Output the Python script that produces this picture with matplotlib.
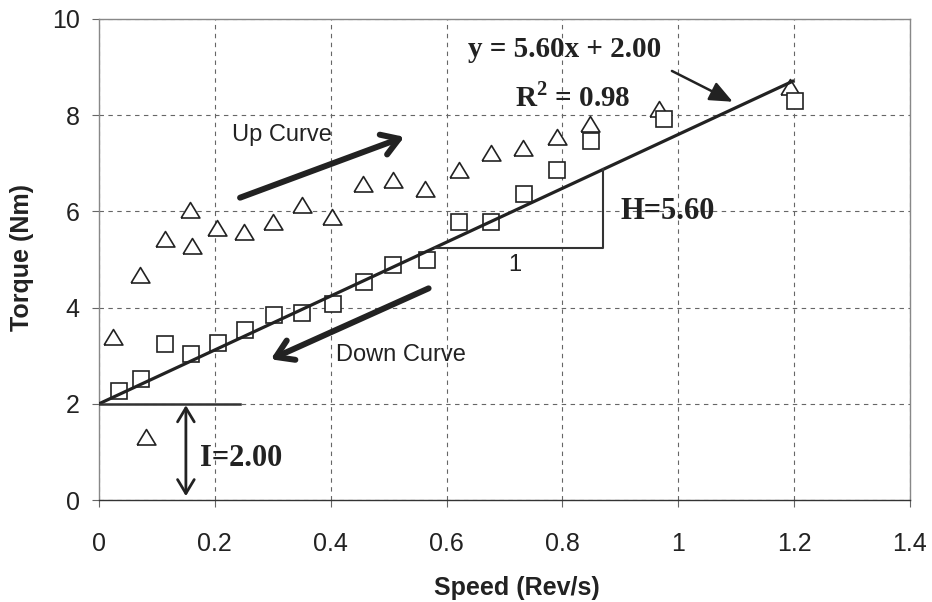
import matplotlib
matplotlib.use("Agg")
import matplotlib.pyplot as plt
import numpy as np

# Measured torque vs speed, increasing speed (up curve)
up_speed = [0.024, 0.071, 0.081, 0.114, 0.157, 0.160, 0.204, 0.251, 0.300, 0.350,
            0.402, 0.456, 0.507, 0.563, 0.622, 0.677, 0.732, 0.790, 0.847, 0.967, 1.192]
up_torque = [3.39, 4.68, 1.32, 5.42, 6.03, 5.29, 5.65, 5.57, 5.77, 6.13,
             5.89, 6.58, 6.65, 6.46, 6.86, 7.22, 7.31, 7.55, 7.81, 8.12, 8.58]

# Measured torque vs speed, decreasing speed (down curve)
down_speed = [0.035, 0.073, 0.114, 0.158, 0.205, 0.252, 0.302, 0.351, 0.404, 0.458,
              0.508, 0.566, 0.622, 0.677, 0.733, 0.790, 0.849, 0.975, 1.202]
down_torque = [2.27, 2.52, 3.24, 3.03, 3.27, 3.53, 3.85, 3.88, 4.07, 4.53,
               4.89, 4.99, 5.79, 5.79, 6.36, 6.86, 7.46, 7.92, 8.30]

# Linear fit parameters
slope = 5.60
intercept = 2.00
r_squared = 0.98
fit_x = [0.0, 1.2]

x_ticks = [0, 0.2, 0.4, 0.6, 0.8, 1.0, 1.2, 1.4]
x_tick_labels = ["0", "0.2", "0.4", "0.6", "0.8", "1", "1.2", "1.4"]
y_ticks = [0, 2, 4, 6, 8, 10]

plt.rcParams["mathtext.fontset"] = "custom"
plt.rcParams["mathtext.rm"] = "Liberation Serif:bold"
plt.rcParams["mathtext.bf"] = "Liberation Serif:bold"

sans = "Liberation Sans"
serif = "Liberation Serif"
ink = "#222222"

fig = plt.figure(figsize=(9.32, 6.02), dpi=100)
ax = fig.add_axes([99 / 932, 102 / 602, 811 / 932, 481 / 602])
ax.set_xlim(0, 1.4)
ax.set_ylim(0, 10)

# grid
ax.set_xticks(x_ticks)
ax.set_xticklabels(x_tick_labels, fontfamily=sans, fontsize=18, color=ink)
ax.set_yticks(y_ticks)
ax.set_yticklabels([str(v) for v in y_ticks], fontfamily=sans, fontsize=18, color=ink)
ax.grid(True, linestyle=(0, (4, 4)), linewidth=0.8, color="#666666")
ax.set_axisbelow(True)
ax.tick_params(axis="y", direction="out", length=5, width=0.8, color="#666666", pad=9)
ax.tick_params(axis="x", direction="out", length=5, width=0.8, color="#666666", pad=18)
for side in ("left", "top", "right"):
    ax.spines[side].set_color("#888888")
    ax.spines[side].set_linewidth(1.0)
ax.spines["bottom"].set_color("#333333")
ax.spines["bottom"].set_linewidth(1.0)

ax.set_xlabel("Speed (Rev/s)", fontfamily=sans, fontsize=18, fontweight="bold",
              color=ink)
ax.xaxis.set_label_coords(0.515, -0.158)
ax.set_ylabel("Torque (Nm)", fontfamily=sans, fontsize=18, fontweight="bold",
              color=ink)
ax.yaxis.set_label_coords(-0.080, 0.505)

# data markers
tri = [(-1.0, -0.8), (1.0, -0.8), (0.0, 0.85), (-1.0, -0.8)]
ax.plot(up_speed, up_torque, linestyle="none", marker=tri, markersize=13.5,
        markerfacecolor="white", markeredgecolor=ink, markeredgewidth=1.2, zorder=3)
ax.plot(down_speed, down_torque, linestyle="none", marker="s", markersize=11,
        markerfacecolor="white", markeredgecolor=ink, markeredgewidth=1.2, zorder=4)

# fit line
fx = np.array(fit_x)
ax.plot(fx, slope * fx + intercept, color=ink, linewidth=2.3, zorder=5,
        solid_capstyle="butt")

# slope triangle
sx0, sx1 = 0.58, 0.87
ax.plot([sx0, sx1, sx1], [slope * sx0 + intercept, slope * sx0 + intercept,
                          slope * sx1 + intercept],
        color="#333333", linewidth=1.5, zorder=5)
ax.text(0.718, 4.89, "1", fontfamily=sans, fontsize=17, color=ink,
        ha="center", va="center")
ax.text(0.90, 5.99, "H=%.2f" % slope, fontfamily=serif, fontweight="bold",
        fontsize=22, color=ink, ha="left", va="center")

# intercept marker
ax.plot([0, 0.2435], [intercept, intercept], color="#333333", linewidth=1.8, zorder=5)
ax.annotate("", xy=(0.150, 0.08), xytext=(0.150, 1.97),
            arrowprops=dict(arrowstyle="<->,head_length=0.5,head_width=0.3",
                            color=ink, linewidth=2.0, shrinkA=0, shrinkB=0,
                            mutation_scale=20))
ax.text(0.174, 0.87, "I=%.2f" % intercept, fontfamily=serif, fontweight="bold",
        fontsize=22, color=ink, ha="left", va="center")

# equation and arrow
ax.text(0.637, 9.36, "y = %.2fx + %.2f" % (slope, intercept), fontfamily=serif,
        fontweight="bold", fontsize=21, color=ink, ha="left", va="center")
ax.text(0.718, 8.38, r"$\mathbf{R}^{\mathbf{2}}$ = %.2f" % r_squared, fontfamily=serif,
        fontweight="bold", fontsize=21, color=ink, ha="left", va="center")
ax.annotate("", xy=(1.094, 8.28), xytext=(0.989, 8.92),
            arrowprops=dict(arrowstyle="-|>,head_length=0.7,head_width=0.3",
                            color=ink, linewidth=1.8, shrinkA=0, shrinkB=0,
                            mutation_scale=20))

# direction arrows
ax.annotate("", xy=(0.527, 7.55), xytext=(0.2435, 6.285),
            arrowprops=dict(arrowstyle="->,head_length=0.6,head_width=0.38",
                            color=ink, linewidth=4.3, shrinkA=0, shrinkB=0,
                            mutation_scale=20))
ax.text(0.316, 7.59, "Up Curve", fontfamily=sans, fontsize=17, color=ink,
        ha="center", va="center")
ax.annotate("", xy=(0.2965, 2.925), xytext=(0.569, 4.40),
            arrowprops=dict(arrowstyle="->,head_length=0.6,head_width=0.38",
                            color=ink, linewidth=4.3, shrinkA=0, shrinkB=0,
                            mutation_scale=20))
ax.text(0.522, 3.01, "Down Curve", fontfamily=sans, fontsize=17, color=ink,
        ha="center", va="center")

fig.savefig("out.png", dpi=100)
